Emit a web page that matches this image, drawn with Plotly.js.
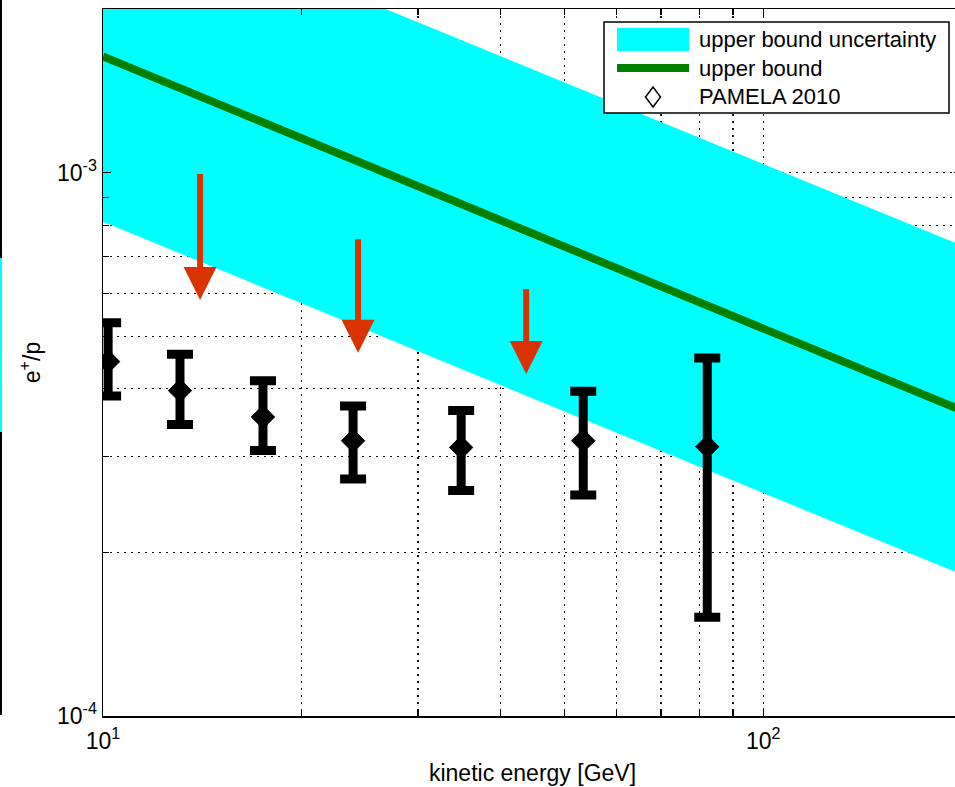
<!DOCTYPE html>
<html>
<head>
<meta charset="utf-8">
<script src="https://cdn.plot.ly/plotly-3.0.1.min.js"></script>
<style>
html,body{margin:0;padding:0;overflow:hidden;background:#fff;}
#chart{width:970px;height:787px;}
</style>
</head>
<body>
<div id="chart"></div>
<script>
// ---- data ----
const bandE = [10, 200];
const bandUpper = [3.27e-3, 7.34e-4];
const bandLower = [8.12e-4, 1.82e-4];

const boundE = [10, 200];
const boundValue = [1.636e-3, 3.65e-4];

const pamelaE = [10.18, 13.08, 17.47, 23.92, 34.87, 53.38, 82.26];
const pamelaRatio = [4.49e-4, 3.97e-4, 3.55e-4, 3.21e-4, 3.12e-4, 3.21e-4, 3.13e-4];
const pamelaHigh = [5.29e-4, 4.63e-4, 4.14e-4, 3.72e-4, 3.65e-4, 3.96e-4, 4.56e-4];
const pamelaLow = [3.88e-4, 3.44e-4, 3.08e-4, 2.73e-4, 2.60e-4, 2.55e-4, 1.52e-4];

const arrowE = [14.03, 24.34, 43.75];
const arrowTail = [1.0e-3, 7.59e-4, 6.14e-4];
const arrowTip = [5.83e-4, 4.66e-4, 4.26e-4];

const legendNames = ['upper bound uncertainty', 'upper bound', 'PAMELA 2010'];

const xTickVals = [10, 100];
const xTickText = ['10<sup>1</sup>', '10<sup>2</sup>'];
const xMinorVals = [20, 30, 40, 50, 60, 70, 80, 90, 200];
const yTickVals = [1e-4, 1e-3];
const yTickText = ['10<sup>-4</sup>', '10<sup>-3</sup>'];
const yMinorVals = [2e-4, 3e-4, 4e-4, 5e-4, 6e-4, 7e-4, 8e-4, 9e-4, 2e-3];

const xTitle = 'kinetic energy [GeV]';
const yTitle = 'e<sup>+</sup>/p';

// ---- styling ----
const FONT = 'Liberation Sans, Arial, Helvetica, sans-serif';
const CYAN = '#00FFFF';
const GREEN = '#007F00';
const RED = '#D83300';

const errPlus = pamelaHigh.map((h, i) => h - pamelaRatio[i]);
const errMinus = pamelaLow.map((l, i) => pamelaRatio[i] - l);

const traces = [
  {x: bandE, y: bandLower, mode: 'lines', line: {width: 0, color: CYAN},
   showlegend: false, hoverinfo: 'skip'},
  {x: bandE, y: bandUpper, mode: 'lines', line: {width: 0, color: CYAN},
   fill: 'tonexty', fillcolor: CYAN, name: legendNames[0], showlegend: false},
  {x: boundE, y: boundValue, mode: 'lines', line: {width: 8, color: GREEN},
   name: legendNames[1], showlegend: false},
  {x: pamelaE, y: pamelaRatio, mode: 'markers', name: legendNames[2], showlegend: false,
   marker: {symbol: 'diamond', size: 18, color: '#000', line: {color: '#000', width: 1}},
   error_y: {type: 'data', symmetric: false, array: errPlus, arrayminus: errMinus,
             color: '#000', thickness: 9, width: 13}}
];

// plot area in pixels (for manual legend placement)
const L = 103, R = 962, T = 9, B = 716;
const px = v => (v - L) / (R - L);
const py = v => (B - v) / (B - T);

const annotations = arrowE.map((e, i) => ({
  x: Math.log10(e), y: Math.log10(arrowTip[i]), xref: 'x', yref: 'y',
  ax: Math.log10(e), ay: Math.log10(arrowTail[i]), axref: 'x', ayref: 'y',
  text: '', showarrow: true, arrowhead: 2, arrowsize: 1.1, arrowwidth: 6,
  arrowcolor: RED, standoff: 0
}));

const legendRows = [40, 68, 96];
legendNames.forEach((n, i) => {
  annotations.push({
    x: px(697), y: py(legendRows[i]), xref: 'paper', yref: 'paper',
    xanchor: 'left', yanchor: 'middle', showarrow: false, text: n,
    font: {family: FONT, size: 22, color: '#000'}
  });
});

const dX = 7.5 / (R - L), dY = 10 / (B - T);
const cx = px(653), cy = py(97);
const shapes = [
  // cropped remnant of neighbouring panel at the left edge
  {type: 'line', xref: 'paper', yref: 'paper', x0: px(1), x1: px(1), y0: py(0), y1: py(715),
   line: {color: '#000', width: 2}},
  {type: 'line', xref: 'paper', yref: 'paper', x0: px(1), x1: px(1), y0: py(258), y1: py(432),
   line: {color: CYAN, width: 2}},
  // legend box
  {type: 'rect', xref: 'paper', yref: 'paper', x0: px(604), x1: px(949), y0: py(113), y1: py(22),
   fillcolor: '#fff', line: {color: '#000', width: 1.5}},
  {type: 'rect', xref: 'paper', yref: 'paper', x0: px(617), x1: px(689), y0: py(51), y1: py(28),
   fillcolor: CYAN, line: {width: 0}},
  {type: 'line', xref: 'paper', yref: 'paper', x0: px(617), x1: px(689), y0: py(68), y1: py(68),
   line: {color: GREEN, width: 8}},
  {type: 'path', xref: 'paper', yref: 'paper',
   path: `M${cx - dX},${cy} L${cx},${cy + dY} L${cx + dX},${cy} L${cx},${cy - dY} Z`,
   fillcolor: '#fff', line: {color: '#000', width: 1.5}}
];

const gridStyle = {gridcolor: '#111', gridwidth: 1.2, griddash: '2px,5px'};

const axisCommon = Object.assign({
  type: 'log', showline: true, linecolor: '#000', linewidth: 1.5, mirror: 'ticks',
  ticks: 'inside', ticklen: 8, tickwidth: 1.2, tickcolor: '#000',
  showgrid: true, zeroline: false, tickmode: 'array',
  tickfont: {family: FONT, size: 23, color: '#000'}
}, gridStyle);

const minorCommon = Object.assign({
  tickmode: 'array', ticks: 'inside', ticklen: 6, tickwidth: 1.2, tickcolor: '#000',
  showgrid: true
}, gridStyle);

const layout = {
  width: 970, height: 787,
  margin: {l: L, r: 970 - R, t: T, b: 787 - B},
  paper_bgcolor: '#fff', plot_bgcolor: '#fff',
  showlegend: false,
  xaxis: Object.assign({}, axisCommon, {
    range: [1, Math.log10(200)], tickvals: xTickVals, ticktext: xTickText,
    ticklabelstandoff: 4,
    minor: Object.assign({}, minorCommon, {tickvals: xMinorVals}),
    title: {text: xTitle, font: {family: FONT, size: 23, color: '#000'}, standoff: 12}
  }),
  yaxis: Object.assign({}, axisCommon, {
    range: [-4, Math.log10(2e-3)], tickvals: yTickVals, ticktext: yTickText,
    minor: Object.assign({}, minorCommon, {tickvals: yMinorVals}),
    title: {text: yTitle, font: {family: FONT, size: 23, color: '#000'}, standoff: 10}
  }),
  annotations: annotations,
  shapes: shapes
};

Plotly.newPlot('chart', traces, layout, {displayModeBar: false, staticPlot: true});
</script>
</body>
</html>
